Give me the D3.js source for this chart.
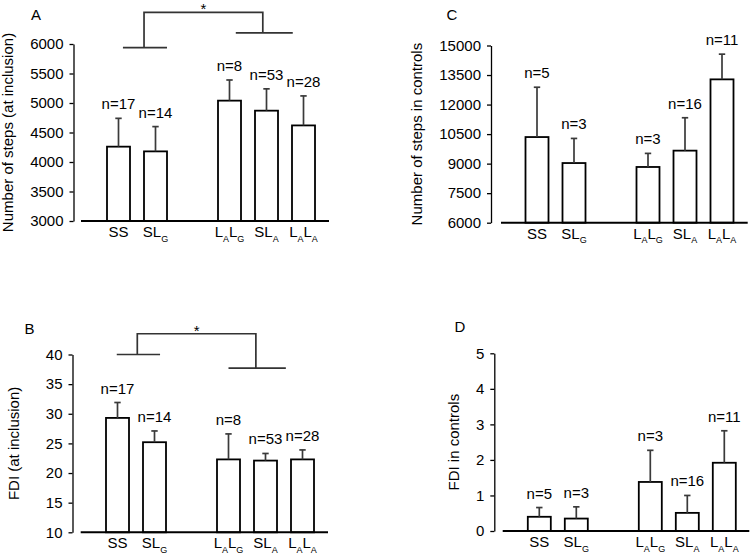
<!DOCTYPE html>
<html><head><meta charset="utf-8">
<script src="https://cdn.jsdelivr.net/npm/d3@7"></script>
<style>
body{margin:0;background:#fff}
svg{display:block}
text{font-family:"Liberation Sans",Arial,Helvetica,sans-serif;fill:#000}
</style>
</head><body>
<svg id="chart" width="752" height="555"></svg>
<script>
// ---------- DATA ----------
const categories = ["SS", "SL_G", "L_AL_G", "SL_A", "L_AL_A"];
const categorySlots = [0, 1, 3, 4, 5];

const nInclusion = [17, 14, 8, 53, 28];
const nControls = [5, 3, 3, 16, 11];

const stepsInclusionMean = [4260, 4180, 5040, 4870, 4620];
const stepsInclusionSD   = [480, 420, 350, 370, 500];

const stepsControlsMean = [10350, 9030, 8830, 9660, 13280];
const stepsControlsSD   = [2530, 1250, 690, 1670, 1280];

const fdiInclusionMean = [29.3, 25.2, 22.3, 22.1, 22.3];
const fdiInclusionSD   = [2.6, 1.9, 4.3, 1.2, 1.6];

const fdiControlsMean = [0.40, 0.35, 1.38, 0.51, 1.92];
const fdiControlsSD   = [0.26, 0.33, 0.89, 0.49, 0.90];

const ticksStepsInclusion = [3000, 3500, 4000, 4500, 5000, 5500, 6000];
const ticksStepsControls  = [6000, 7500, 9000, 10500, 12000, 13500, 15000];
const ticksFdiInclusion   = [10, 15, 20, 25, 30, 35, 40];
const ticksFdiControls    = [0, 1, 2, 3, 4, 5];

// significance brackets (levels in data units)
const bracketStepsLevels = {left: 5940, right: 6190, top: 6535};
const bracketFdiLevels   = {left: 40, right: 37.7, top: 43.5};

// ---------- LAYOUT ----------
const panels = [
  {label:"A", title:"Number of steps (at inclusion)", mean:stepsInclusionMean, sd:stepsInclusionSD, n:nInclusion,
   ticks:ticksStepsInclusion, axisX:73.5, yBottom:221, yTop:44, base:[81,329], slot0:118.5,
   titleX:12.5, labelXY:[36,20],
   bracket:{levels:bracketStepsLevels, left:[0.12,1.31], leftV:0.69, right:[3.17,4.71], rightV:3.9, starDy:1.5}},
  {label:"C", title:"Number of steps in controls", mean:stepsControlsMean, sd:stepsControlsSD, n:nControls,
   ticks:ticksStepsControls, axisX:491, yBottom:222.7, yTop:45.5, base:[501,747.7], slot0:537,
   titleX:421.5, labelXY:[452,19.5]},
  {label:"B", title:"FDI (at inclusion)", mean:fdiInclusionMean, sd:fdiInclusionSD, n:nInclusion,
   ticks:ticksFdiInclusion, axisX:72.5, yBottom:532.3, yTop:354.5, base:[80.7,328], slot0:117.5,
   titleX:18.5, labelXY:[29.5,333.5],
   bracket:{levels:bracketFdiLevels, left:[-0.02,1.15], leftV:0.535, right:[3.0,4.55], rightV:3.74, starDy:2}},
  {label:"D", title:"FDI in controls", mean:fdiControlsMean, sd:fdiControlsSD, n:nControls,
   ticks:ticksFdiControls, axisX:494.3, yBottom:531, yTop:353.3, base:[502.7,749.3], slot0:539.3,
   titleX:459, labelXY:[460,332]}
];

const SLOT = 37, BAR_W = 23, CAP = 3.2;
const FS = 15;
const svg = d3.select("#chart");

function addLabel(sel, str) {
  // parse "_X" as subscript X
  let i = 0, sub = false;
  const parts = [];
  while (i < str.length) {
    if (str[i] === "_") { parts.push({t: str[i+1], sub: true}); i += 2; }
    else {
      let j = i; let s = "";
      while (j < str.length && str[j] !== "_") { s += str[j]; j++; }
      parts.push({t: s, sub: false}); i = j;
    }
  }
  let cur = 0;
  parts.forEach(p => {
    const target = p.sub ? 4.5 : 0;
    sel.append("tspan").attr("dy", target - cur)
      .attr("font-size", p.sub ? 9 : FS).text(p.t);
    cur = target;
  });
}

panels.forEach(p => {
  const g = svg.append("g");
  const lo = p.ticks[0], hi = p.ticks[p.ticks.length - 1];
  const y = d3.scaleLinear().domain([lo, hi]).range([p.yBottom, p.yTop]);
  const x = d3.scaleLinear().domain([0, 5]).range([p.slot0, p.slot0 + 5 * SLOT]);

  // y axis
  const ax = g.append("g").attr("transform", `translate(${p.axisX},0)`)
    .call(d3.axisLeft(y).tickValues(p.ticks).tickSize(4).tickSizeOuter(0).tickPadding(6).tickFormat(d3.format("d")));
  ax.selectAll("path.domain").attr("stroke", "#000").attr("stroke-width", 1.3);
  ax.selectAll(".tick line").attr("stroke", "#000").attr("stroke-width", 1.3);
  ax.selectAll(".tick text").attr("font-size", FS).attr("font-family", '"Liberation Sans",Arial,sans-serif').attr("fill", "#000");

  // axis title
  g.append("text")
    .attr("transform", `translate(${p.titleX},${(p.yBottom + p.yTop) / 2}) rotate(-90)`)
    .attr("text-anchor", "middle").attr("font-size", FS).text(p.title);

  // panel label
  g.append("text").attr("x", p.labelXY[0]).attr("y", p.labelXY[1])
    .attr("text-anchor", "middle").attr("font-size", FS).text(p.label);

  const data = categories.map((c, i) => ({c, slot: categorySlots[i], m: p.mean[i], sd: p.sd[i], n: p.n[i]}));

  // bars
  g.selectAll("rect.bar").data(data).join("rect").attr("class", "bar")
    .attr("x", d => x(d.slot) - BAR_W / 2).attr("width", BAR_W)
    .attr("y", d => y(d.m)).attr("height", d => y(lo) - y(d.m))
    .attr("fill", "#fff").attr("stroke", "#000").attr("stroke-width", 1.8);

  // error bars
  g.selectAll("line.err").data(data).join("line").attr("class", "err")
    .attr("x1", d => x(d.slot)).attr("x2", d => x(d.slot))
    .attr("y1", d => y(d.m)).attr("y2", d => y(d.m + d.sd))
    .attr("stroke", "#3a3a3a").attr("stroke-width", 1.7);
  g.selectAll("line.cap").data(data).join("line").attr("class", "cap")
    .attr("x1", d => x(d.slot) - CAP).attr("x2", d => x(d.slot) + CAP)
    .attr("y1", d => y(d.m + d.sd)).attr("y2", d => y(d.m + d.sd))
    .attr("stroke", "#3a3a3a").attr("stroke-width", 1.7);

  // n labels
  g.selectAll("text.n").data(data).join("text").attr("class", "n")
    .attr("x", d => x(d.slot)).attr("y", d => y(d.m + d.sd) - 9)
    .attr("text-anchor", "middle").attr("font-size", FS).text(d => "n=" + d.n);

  // baseline
  g.append("line").attr("x1", p.base[0]).attr("x2", p.base[1])
    .attr("y1", y(lo)).attr("y2", y(lo)).attr("stroke", "#000").attr("stroke-width", 2);

  // category labels
  g.selectAll("text.cat").data(data).join("text").attr("class", "cat")
    .attr("x", d => x(d.slot)).attr("y", y(lo) + 16)
    .attr("text-anchor", "middle").attr("font-size", FS)
    .each(function(d) { addLabel(d3.select(this), d.c); });

  // significance bracket
  if (p.bracket) {
    const b = p.bracket, L = b.levels;
    const path = d3.path();
    path.moveTo(x(b.left[0]), y(L.left)); path.lineTo(x(b.left[1]), y(L.left));
    path.moveTo(x(b.leftV), y(L.left)); path.lineTo(x(b.leftV), y(L.top));
    path.lineTo(x(b.rightV), y(L.top)); path.lineTo(x(b.rightV), y(L.right));
    path.moveTo(x(b.right[0]), y(L.right)); path.lineTo(x(b.right[1]), y(L.right));
    g.append("path").attr("d", path.toString()).attr("fill", "none")
      .attr("stroke", "#333").attr("stroke-width", 1.7);
    g.append("text").attr("x", (x(b.leftV) + x(b.rightV)) / 2).attr("y", y(L.top) + b.starDy)
      .attr("text-anchor", "middle").attr("font-size", FS).text("*");
  }
});
</script>
</body></html>
